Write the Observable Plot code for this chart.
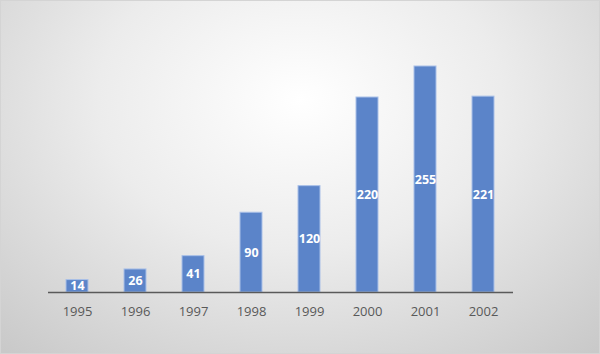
<!DOCTYPE html>
<html>
<head>
<meta charset="utf-8">
<script src="https://cdn.jsdelivr.net/npm/d3@7"></script>
<script src="https://cdn.jsdelivr.net/npm/@observablehq/plot@0.6"></script>
<style>
  html, body { margin: 0; padding: 0; }
  #chart {
    width: 600px; height: 354px; box-sizing: border-box;
    border: 1px solid #d4d4d4;
    background: radial-gradient(ellipse 75% 95% at 50% 28%, #ffffff 0%, #ececec 45%, #c9c9c9 100%);
    overflow: hidden;
  }
  #chart svg { background: transparent; display: block; }
</style>
</head>
<body>
<div id="chart"></div>
<script>
const years = ["1995","1996","1997","1998","1999","2000","2001","2002"];
const values = [14, 26, 41, 90, 120, 220, 255, 221];

const data = years.map((y, i) => ({year: y, value: values[i]}));

const chart = Plot.plot({
  width: 598,
  height: 352,
  marginLeft: 47,
  marginRight: 86,
  marginTop: 65,
  marginBottom: 61,
  style: {background: "transparent", fontFamily: "'Open Sans', sans-serif"},
  x: {domain: years, paddingInner: 0.62, paddingOuter: 0.31, label: null},
  y: {domain: [0, 255], axis: null},
  marks: [
    Plot.barY(data, {x: "year", y: "value", fill: "#5b84c9", stroke: "#a9c0e8", strokeWidth: 1}),
    Plot.ruleY([0], {stroke: "#5a5a5a", strokeWidth: 1.5}),
    Plot.axisX({tickSize: 0, tickPadding: 14, fontSize: 13, color: "#595959", label: null}),
    Plot.text(data, {x: "year", y: d => d.value / 2, text: d => String(d.value), fill: "white", fontWeight: "bold", fontSize: 12.5})
  ]
});
document.getElementById("chart").appendChild(chart);
</script>
</body>
</html>
